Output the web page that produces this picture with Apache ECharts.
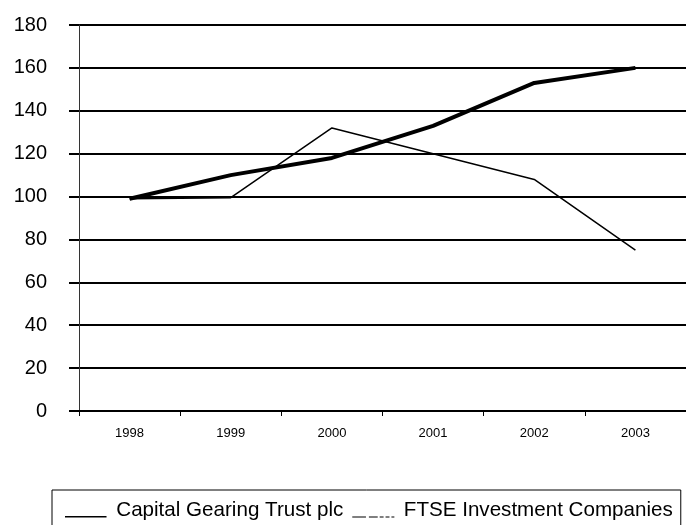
<!DOCTYPE html>
<html><head><meta charset="utf-8">
<script src="https://cdn.jsdelivr.net/npm/echarts@6/dist/echarts.min.js"></script>
<style>html,body{margin:0;padding:0;background:#fff}#c{width:686px;height:525px}</style>
</head><body><div id="c"></div>
<script>
const years = ['1998','1999','2000','2001','2002','2003'];
const capitalGearing = [99, 110, 118, 133, 153, 160];
const ftseInvestment = [99, 99.5, 132, 120, 108, 75];
const yTicks = {min: 0, max: 180, interval: 20};
const seriesNames = ['Capital Gearing Trust plc', 'FTSE Investment Companies'];

const solidIcon = 'path://M0,0 L0.01,0 L0.01,0.01 Z M0,13 L43,13 L43,14.5 L0,14.5 Z';
const dashIcon = 'path://M0,0 L0.01,0 L0.01,0.01 Z M0,13.3 L14,13.3 L14,14.3 L0,14.3 Z M17,13.3 L26,13.3 L26,14.3 L17,14.3 Z M28,13.3 L32,13.3 L32,14.3 L28,14.3 Z M34,13.3 L38,13.3 L38,14.3 L34,14.3 Z M40,13.3 L43,13.3 L43,14.3 L40,14.3 Z';

const chart = echarts.init(document.getElementById('c'), null, {renderer: 'canvas'});
chart.setOption({
  animation: false,
  backgroundColor: '#fff',
  grid: {left: 79, top: 25, right: -4, bottom: 114, containLabel: false},
  xAxis: {
    type: 'category', data: years, boundaryGap: true,
    axisLine: {show: true, lineStyle: {color: '#000', width: 2}},
    axisTick: {show: true, length: 5, inside: false, lineStyle: {color: '#000', width: 1}},
    axisLabel: {color: '#000', fontSize: 13, fontFamily: 'Liberation Sans, Arial', margin: 16},
    splitLine: {show: false}
  },
  yAxis: {
    type: 'value', min: yTicks.min, max: yTicks.max, interval: yTicks.interval,
    axisLine: {show: true, lineStyle: {color: '#333', width: 1}},
    axisTick: {show: true, length: 10, lineStyle: {color: '#000', width: 2}},
    axisLabel: {color: '#000', fontSize: 20, fontFamily: 'Liberation Sans, Arial', margin: 32},
    splitLine: {show: true, lineStyle: {color: '#000', width: 2}}
  },
  legend: {
    left: 52, top: 490,
    padding: [10, 8, 20, 13],
    borderColor: '#000', borderWidth: 1,
    itemWidth: 43, itemHeight: 14, itemGap: 9,
    textStyle: {color: '#000', fontSize: 20.6, fontFamily: 'Liberation Sans, Arial', padding: [0, 0, 0, 4]},
    data: [
      {name: seriesNames[0], icon: solidIcon},
      {name: seriesNames[1], icon: dashIcon}
    ]
  },
  series: [
    {name: seriesNames[0], type: 'line', data: capitalGearing, symbol: 'none',
     lineStyle: {color: '#000', width: 4}, itemStyle: {color: '#000'}},
    {name: seriesNames[1], type: 'line', data: ftseInvestment, symbol: 'none',
     lineStyle: {color: '#000', width: 1.5}, itemStyle: {color: '#000'}}
  ]
});
</script></body></html>
